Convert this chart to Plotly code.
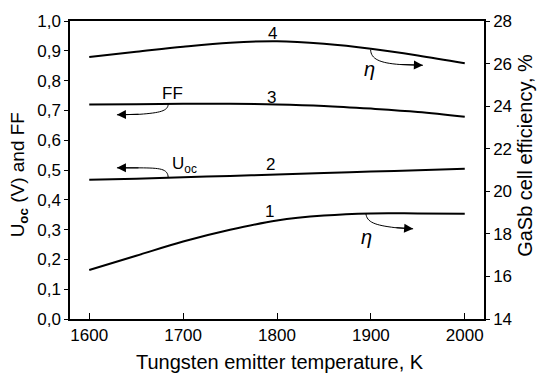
import plotly.graph_objects as go

# ---- data ----
temperature = [1600, 1650, 1700, 1750, 1800, 1850, 1900, 1950, 2000]
eff_curve1 = [16.30, 16.97, 17.64, 18.19, 18.63, 18.86, 18.96, 18.96, 18.95]   # %, right axis
uoc_curve2 = [0.467, 0.471, 0.476, 0.480, 0.485, 0.490, 0.495, 0.499, 0.504]   # V, left axis
ff_curve3 = [0.720, 0.721, 0.722, 0.722, 0.720, 0.715, 0.706, 0.695, 0.679]    # left axis
eff_curve4 = [26.31, 26.55, 26.79, 26.98, 27.05, 26.93, 26.70, 26.38, 26.01]   # %, right axis

left_ticks = [0.0, 0.1, 0.2, 0.3, 0.4, 0.5, 0.6, 0.7, 0.8, 0.9, 1.0]
left_ticktext = ["0,0", "0,1", "0,2", "0,3", "0,4", "0,5", "0,6", "0,7", "0,8", "0,9", "1,0"]
right_ticks = [14, 16, 18, 20, 22, 24, 26, 28]
x_ticks = [1600, 1700, 1800, 1900, 2000]

FONT = "Liberation Sans, Arial, sans-serif"
line_style = dict(color="black", width=2, shape="spline", smoothing=1.0)

fig = go.Figure()
fig.add_trace(go.Scatter(x=temperature, y=eff_curve1, yaxis="y2", mode="lines", line=line_style))
fig.add_trace(go.Scatter(x=temperature, y=uoc_curve2, yaxis="y", mode="lines", line=line_style))
fig.add_trace(go.Scatter(x=temperature, y=ff_curve3, yaxis="y", mode="lines", line=line_style))
fig.add_trace(go.Scatter(x=temperature, y=eff_curve4, yaxis="y2", mode="lines", line=line_style))

# ---- curved pointer arrows (data coordinates of the left axis) ----
arrows = [
    # start, ctrl1, ctrl2, end-of-curve, tip
    ((1684.1, 0.721), (1683.8, 0.698), (1675.3, 0.692), (1654.0, 0.687), (1629.5, 0.6852)),
    ((1684.1, 0.4745), (1683.8, 0.505), (1675.3, 0.5066), (1654.0, 0.5072), (1629.5, 0.5072)),
    ((1899.7, 0.904), (1900.0, 0.872), (1909.6, 0.859), (1930.9, 0.854), (1955.4, 0.8515)),
    ((1894.7, 0.3535), (1895.8, 0.3246), (1904.3, 0.3148), (1925.6, 0.3066), (1945.0, 0.3026)),
]
shapes = []
annotations = []
for s, c1, c2, e, tip in arrows:
    path = (f"M {s[0]},{s[1]} C {c1[0]},{c1[1]} {c2[0]},{c2[1]} {e[0]},{e[1]} "
            f"L {tip[0]},{tip[1]}")
    shapes.append(dict(type="path", path=path, xref="x", yref="y",
                       line=dict(color="black", width=1)))
    annotations.append(dict(x=tip[0], y=tip[1], ax=e[0], ay=e[1], xref="x", yref="y",
                            axref="x", ayref="y", text="", showarrow=True,
                            arrowhead=2, arrowsize=1.8, arrowwidth=1, arrowcolor="black",
                            standoff=0, startstandoff=0))

def label(x, y, text, size=17, italic=False):
    annotations.append(dict(x=x, y=y, xref="x", yref="y", text=text, showarrow=False,
                            font=dict(family=FONT, size=size, color="black",
                                      style="italic" if italic else "normal"),
                            xanchor="center", yanchor="middle"))

label(1795.6, 0.957, "4")
label(1794.6, 0.744, "3")
label(1793.5, 0.518, "2")
label(1792.5, 0.361, "1")
label(1689, 0.757, "FF")
label(1701, 0.517, "U<sub>oc</sub>")
label(1899, 0.839, "η", size=20, italic=True)
label(1895, 0.275, "η", size=20, italic=True)

# axis titles
annotations.append(dict(x=0.507, y=-0.144, xref="paper", yref="paper",
                        text="Tungsten emitter temperature, K", showarrow=False,
                        font=dict(family=FONT, size=20, color="black"),
                        xanchor="center", yanchor="middle"))
annotations.append(dict(x=(19 - 70) / 414, y=(319 - 172) / 305, xref="paper", yref="paper",
                        text="U<sub><b>oc</b></sub> (V) and FF", textangle=-90, showarrow=False,
                        font=dict(family=FONT, size=19, color="black"),
                        xanchor="center", yanchor="middle"))
annotations.append(dict(x=(525 - 70) / 414, y=(319 - 152) / 305, xref="paper", yref="paper",
                        text="GaSb cell efficiency, %", textangle=-90, showarrow=False,
                        font=dict(family=FONT, size=20, color="black"),
                        xanchor="center", yanchor="middle"))

fig.update_layout(
    width=537, height=376,
    margin=dict(l=70, r=53, t=14, b=57),
    paper_bgcolor="white", plot_bgcolor="white",
    showlegend=False,
    font=dict(family=FONT, size=17, color="black"),
    xaxis=dict(range=[1579.5, 2020.5], tickvals=x_ticks, ticks="inside", ticklen=6,
               tickwidth=1, tickcolor="black", showline=True, linecolor="black",
               linewidth=1.5, mirror=True, showgrid=False, zeroline=False,
               tickfont=dict(size=17)),
    yaxis=dict(range=[0, 1.0], tickvals=left_ticks, ticktext=left_ticktext,
               ticks="outside", ticklen=4, tickwidth=1, tickcolor="black",
               showline=True, linecolor="black", linewidth=1.5, showgrid=False,
               zeroline=False, tickfont=dict(size=17)),
    yaxis2=dict(range=[14, 28], tickvals=right_ticks, overlaying="y", side="right",
                ticks="outside", ticklen=4, tickwidth=1, tickcolor="black",
                showline=True, linecolor="black", linewidth=1.5, showgrid=False,
                zeroline=False, tickfont=dict(size=17)),
    shapes=shapes,
    annotations=annotations,
)

fig.write_html("out.html")
